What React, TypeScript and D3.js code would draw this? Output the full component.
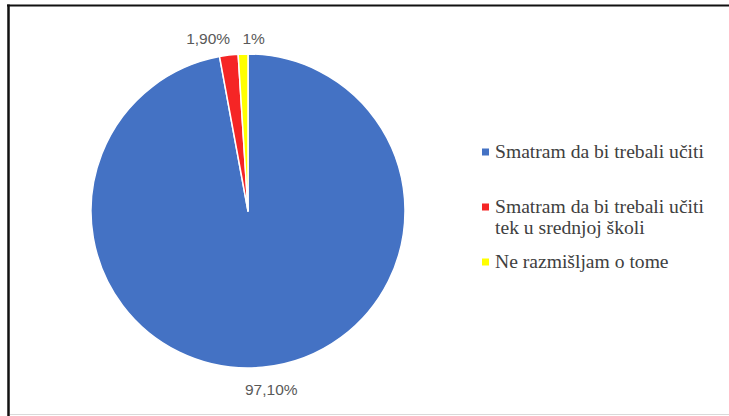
import React, { useEffect, useRef } from 'react'
import * as d3 from 'd3'

const W = 729
const H = 416

// data
const categories = [
  'Smatram da bi trebali učiti',
  'Smatram da bi trebali učiti tek u srednjoj školi',
  'Ne razmišljam o tome'
]
const values = [97.1, 1.9, 1]
const valueLabels = ['97,10%', '1,90%', '1%']
const legendLines = [
  ['Smatram da bi trebali učiti'],
  ['Smatram da bi trebali učiti', 'tek u srednjoj školi'],
  ['Ne razmišljam o tome']
]

const colors = ['#4472C4', '#F52525', '#FFFF00']
// small nudges so the labels sit the way excel places them
const labelAnchor = ['middle', 'end', 'start']
const labelNudge = [[7, 0], [4, 5], [0, 6]]

const App = () => {
  const ref = useRef<SVGSVGElement>(null)

  useEffect(() => {
    const svg = d3.select(ref.current)
    svg.selectAll('*').remove()

    // frame
    svg.append('line').attr('x1', 7).attr('x2', W).attr('y1', 5.5).attr('y2', 5.5)
      .attr('stroke', '#111').attr('stroke-width', 2)
    svg.append('line').attr('x1', 8.5).attr('x2', 8.5).attr('y1', 4.5).attr('y2', H)
      .attr('stroke', '#111').attr('stroke-width', 2.5)
    svg.append('line').attr('x1', 10).attr('x2', W).attr('y1', 414.5).attr('y2', 414.5)
      .attr('stroke', '#d9d9d9').attr('stroke-width', 1)

    const cx = 248
    const cy = 211
    const radius = 157

    const g = svg.append('g').attr('transform', `translate(${cx},${cy})`)

    const pie = d3.pie<number>().value(d => d).sort(null)
    const arcs = pie(values)

    const arc = d3.arc<d3.PieArcDatum<number>>().innerRadius(0).outerRadius(radius)
    const labelArc = d3.arc<d3.PieArcDatum<number>>().innerRadius(179).outerRadius(179)

    g.selectAll('path')
      .data(arcs)
      .enter()
      .append('path')
      .attr('d', arc)
      .attr('fill', (d, i) => colors[i])
      .attr('stroke', '#fff')
      .attr('stroke-width', 1.5)
      .attr('stroke-linejoin', 'round')

    g.selectAll('text.lbl')
      .data(arcs)
      .enter()
      .append('text')
      .attr('class', 'lbl')
      .attr('x', (d, i) => labelArc.centroid(d)[0] + labelNudge[i][0])
      .attr('y', (d, i) => labelArc.centroid(d)[1] + labelNudge[i][1])
      .attr('dy', '0.36em')
      .attr('text-anchor', (d, i) => labelAnchor[i])
      .style('font-family', 'Liberation Sans, Arial, sans-serif')
      .style('font-size', '15.5px')
      .attr('fill', '#595959')
      .text((d, i) => valueLabels[i])

    // legend
    const ly = d3.scalePoint<string>().domain(categories).range([158, 268])
    const leg = svg.append('g')
    categories.forEach((c, i) => {
      const y = ly(c) as number
      leg.append('rect')
        .attr('x', 482).attr('y', y - 9.5)
        .attr('width', 7).attr('height', 7)
        .attr('fill', colors[i])
      const t = leg.append('text')
        .attr('x', 495).attr('y', y)
        .style('font-family', 'Liberation Serif, Times New Roman, DejaVu Serif, serif')
        .style('font-size', '19.6px')
        .attr('fill', '#404040')
      legendLines[i].forEach((line, j) => {
        t.append('tspan').attr('x', 495).attr('y', y + j * 21).text(line)
      })
    })
  }, [])

  return (
    <div style={{ position: 'absolute', left: 0, top: 0 }}>
      <svg ref={ref} width={W} height={H} style={{ display: 'block', background: '#fff' }} />
    </div>
  )
}

export default App
